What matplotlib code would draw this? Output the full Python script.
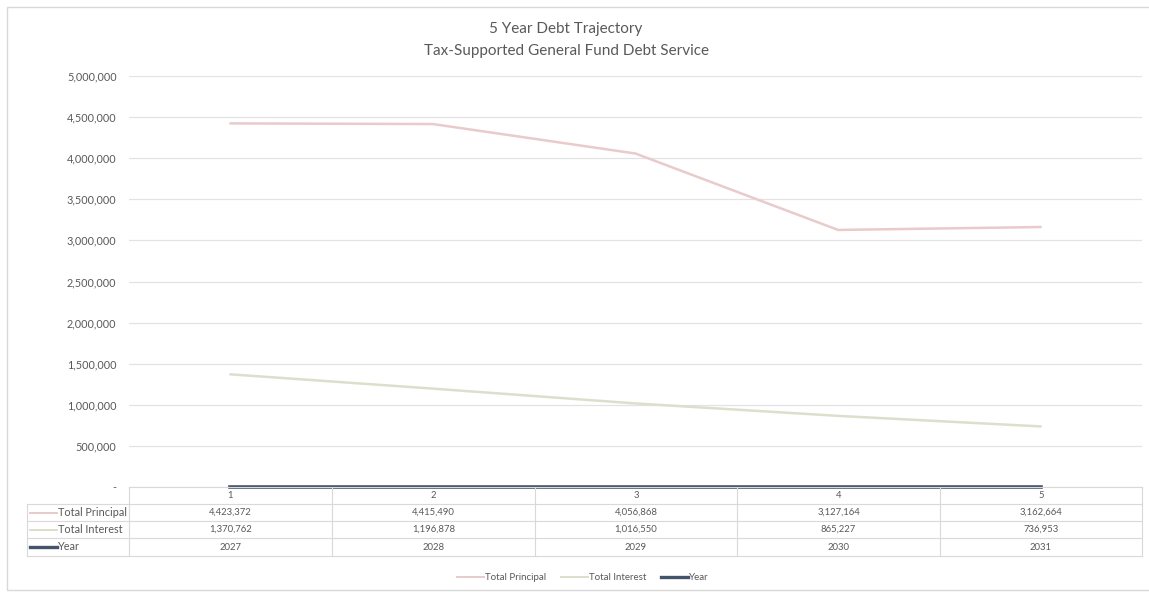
import matplotlib
matplotlib.use("Agg")
import matplotlib.pyplot as plt
from matplotlib.lines import Line2D
from matplotlib.patches import Rectangle

plt.rcParams['font.family'] = ['Lato', 'DejaVu Sans']

periods = [1, 2, 3, 4, 5]
total_principal = [4423372, 4415490, 4056868, 3127164, 3162664]
total_interest = [1370762, 1196878, 1016550, 865227, 736953]
years = [2027, 2028, 2029, 2030, 2031]
series_names = ["Total Principal", "Total Interest", "Year"]
title_lines = ["5 Year Debt Trajectory", "Tax-Supported General Fund Debt Service"]
y_ticks = [0, 500000, 1000000, 1500000, 2000000, 2500000,
           3000000, 3500000, 4000000, 4500000, 5000000]

c_principal = "#e8cbca"
c_interest = "#dcdfcc"
c_year = "#44546a"
c_text = "#595959"
c_grid = "#e3e3e3"

W, H = 1149, 592
fig = plt.figure(figsize=(W / 100, H / 100), dpi=100)
fig.patch.set_facecolor("white")

def fx(px):
    return px / W

def fy(py):
    return 1 - py / H

# chart border
fig.patches.append(Rectangle((fx(7), fy(590)), fx(1160) - fx(7), fy(7) - fy(590),
                             transform=fig.transFigure, fill=False,
                             edgecolor="#d9d9d9", lw=1.0))

left, right, top, bottom = 129, 1142, 76, 487
ax = fig.add_axes([fx(left), fy(bottom), fx(right) - fx(left), fy(top) - fy(bottom)])
ax.set_xlim(0.5, 5.5)
ax.set_ylim(0, 5000000)
for s in ax.spines.values():
    s.set_visible(False)
ax.set_yticks(y_ticks)
ax.set_yticklabels(["-" if v == 0 else f"{v:,}" for v in y_ticks],
                   fontsize=7.8, color=c_text)
ax.tick_params(axis="y", length=0, pad=9)
ax.set_xticks([])
ax.grid(axis="y", color=c_grid, lw=0.9)
ax.set_axisbelow(True)

ax.plot(periods, total_principal, color=c_principal, lw=1.8, solid_capstyle="round")
ax.plot(periods, total_interest, color=c_interest, lw=1.8, solid_capstyle="round")
ax.plot(periods, years, color=c_year, lw=2.6, clip_on=False, zorder=5)

# titles
fig.text(fx(566), fy(29), title_lines[0], ha="center", va="center",
         fontsize=11, color=c_text)
fig.text(fx(566), fy(51), title_lines[1], ha="center", va="center",
         fontsize=11, color=c_text)

# data table below the plot
col_edges = [129, 332, 535, 737, 940, 1142]
row_edges = [487, 504, 521, 538, 556]
label_left = 27
tbl_color = "#d9d9d9"

def hline(x0, x1, y):
    fig.add_artist(Line2D([fx(x0), fx(x1)], [fy(y), fy(y)],
                          transform=fig.transFigure, color=tbl_color, lw=0.8))

def vline(x, y0, y1):
    fig.add_artist(Line2D([fx(x), fx(x)], [fy(y0), fy(y1)],
                          transform=fig.transFigure, color=tbl_color, lw=0.8))

hline(col_edges[0], col_edges[-1], row_edges[0])
for y in row_edges[1:]:
    hline(label_left, col_edges[-1], y)
for x in col_edges:
    vline(x, row_edges[0], row_edges[-1])
vline(label_left, row_edges[1], row_edges[-1])

def row_center(i):
    return (row_edges[i] + row_edges[i + 1]) / 2

tfs = 6.8
for j, p in enumerate(periods):
    cx = (col_edges[j] + col_edges[j + 1]) / 2
    fig.text(fx(cx), fy(row_center(0)), str(p), ha="center", va="center",
             fontsize=tfs, color=c_text)
    fig.text(fx(cx), fy(row_center(1)), f"{total_principal[j]:,}", ha="center",
             va="center", fontsize=tfs, color=c_text)
    fig.text(fx(cx), fy(row_center(2)), f"{total_interest[j]:,}", ha="center",
             va="center", fontsize=tfs, color=c_text)
    fig.text(fx(cx), fy(row_center(3)), str(years[j]), ha="center",
             va="center", fontsize=tfs, color=c_text)

key_styles = [(c_principal, 1.4), (c_interest, 1.4), (c_year, 2.4)]
for i, (name, (col, lw)) in enumerate(zip(series_names, key_styles)):
    yc = row_center(i + 1)
    fig.add_artist(Line2D([fx(30), fx(57)], [fy(yc), fy(yc)],
                          transform=fig.transFigure, color=col, lw=lw))
    fig.text(fx(58), fy(yc), name, ha="left", va="center", fontsize=7.8,
             color=c_text)

# legend
leg_y = 577
leg_items = [(457, c_principal, 1.4, series_names[0]),
             (561, c_interest, 1.4, series_names[1]),
             (661, c_year, 2.4, series_names[2])]
for x0, col, lw, name in leg_items:
    fig.add_artist(Line2D([fx(x0), fx(x0 + 27)], [fy(leg_y), fy(leg_y)],
                          transform=fig.transFigure, color=col, lw=lw))
    fig.text(fx(x0 + 28), fy(leg_y), name, ha="left", va="center",
             fontsize=7.0, color=c_text)

fig.savefig("out.png", dpi=100, facecolor="white")
